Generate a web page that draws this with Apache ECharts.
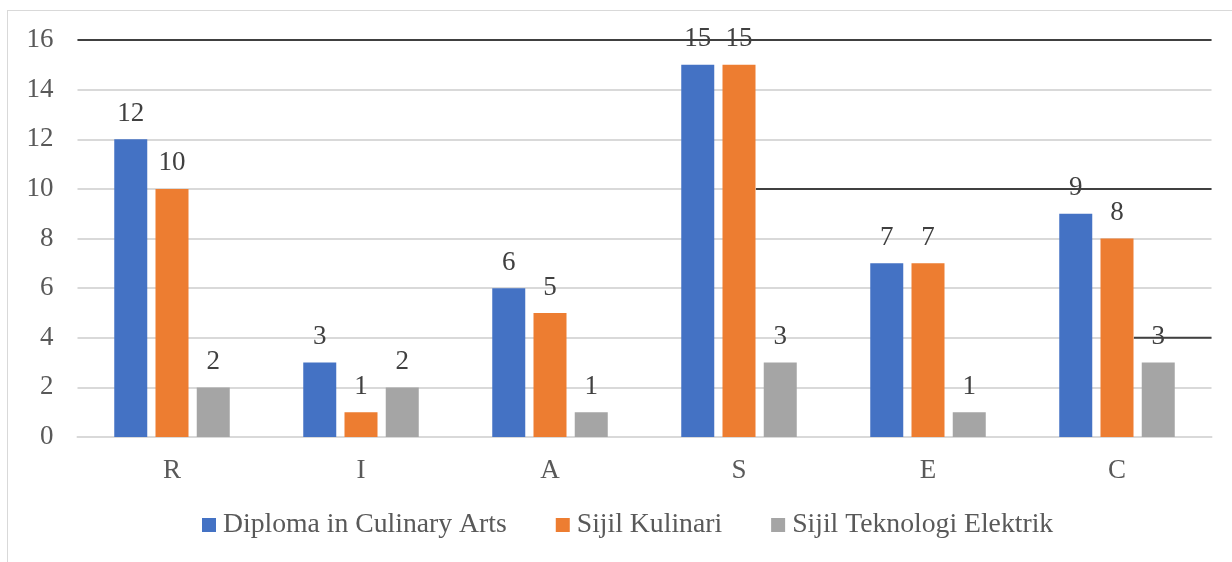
<!DOCTYPE html>
<html>
<head>
<meta charset="utf-8">
<script src="https://cdn.jsdelivr.net/npm/echarts@6/dist/echarts.min.js"></script>
<style>
  html, body { margin: 0; padding: 0; background: #fff; overflow: hidden; }
  #frame {
    position: absolute; left: 7px; top: 10px; width: 1260px; height: 600px;
    border: 1px solid #d9d9d9; box-sizing: border-box;
  }
  #myChart { position: absolute; left: 0; top: 0; width: 1232px; height: 562px; }
</style>
</head>
<body>
<div id="frame"></div>
<div id="myChart"></div>
<script>
// categories and values
var categories = ["R", "I", "A", "S", "E", "C"];
var diplomaCulinary = [12, 3, 6, 15, 7, 9];
var sijilKulinari = [10, 1, 5, 15, 7, 8];
var sijilElektrik = [2, 2, 1, 3, 1, 3];
var seriesNames = ["Diploma in Culinary Arts", "Sijil Kulinari", "Sijil Teknologi Elektrik"];

// stray dark rules in the original: [y value, from x (in category units), to x]
var strayRules = [
  [16, 0, 6],
  [10, 3.59, 6],
  [4, 5.59, 6]
];

var font = "'Liberation Serif', 'Times New Roman', serif";
var myChart = echarts.init(document.getElementById("myChart"));

function barSeries(name, data, color) {
  return {
    name: name,
    type: "bar",
    data: data,
    barWidth: 33,
    barGap: "25%",
    itemStyle: { color: color },
    label: {
      show: true,
      position: "top",
      distance: 12,
      color: "#404040",
      fontFamily: font,
      fontSize: 27
    }
  };
}

var series = [
  barSeries(seriesNames[0], diplomaCulinary, "#4472C4"),
  barSeries(seriesNames[1], sijilKulinari, "#ED7D31"),
  barSeries(seriesNames[2], sijilElektrik, "#A5A5A5")
];

strayRules.forEach(function (r) {
  series.push({
    type: "line",
    xAxisIndex: 1,
    silent: true,
    symbol: "none",
    z: 1,
    lineStyle: { color: "#404040", width: 2 },
    data: [[r[1], r[0]], [r[2], r[0]]]
  });
});

var option = {
  animation: false,
  grid: { left: 77.5, right: 20.5, top: 40, bottom: 125 },
  legend: {
    data: seriesNames,
    left: 202,
    top: 511,
    padding: 0,
    itemWidth: 14,
    itemHeight: 14,
    itemGap: 49,
    icon: "rect",
    textStyle: {
      color: "#595959",
      fontFamily: font,
      fontSize: 27.7,
      padding: [0, 0, 0, 2]
    }
  },
  xAxis: [
    {
      type: "category",
      data: categories,
      axisTick: { show: false },
      axisLine: { lineStyle: { color: "#d9d9d9", width: 2 } },
      axisLabel: { color: "#595959", fontFamily: font, fontSize: 27, margin: 20 }
    },
    {
      type: "value",
      min: 0,
      max: 6,
      show: false
    }
  ],
  yAxis: {
    type: "value",
    min: 0,
    max: 16,
    interval: 2,
    axisLine: { show: false },
    axisTick: { show: false },
    splitLine: { lineStyle: { color: "#d9d9d9", width: 2 } },
    axisLabel: { color: "#595959", fontFamily: font, fontSize: 27, margin: 24 }
  },
  series: series
};

myChart.setOption(option);
</script>
</body>
</html>
